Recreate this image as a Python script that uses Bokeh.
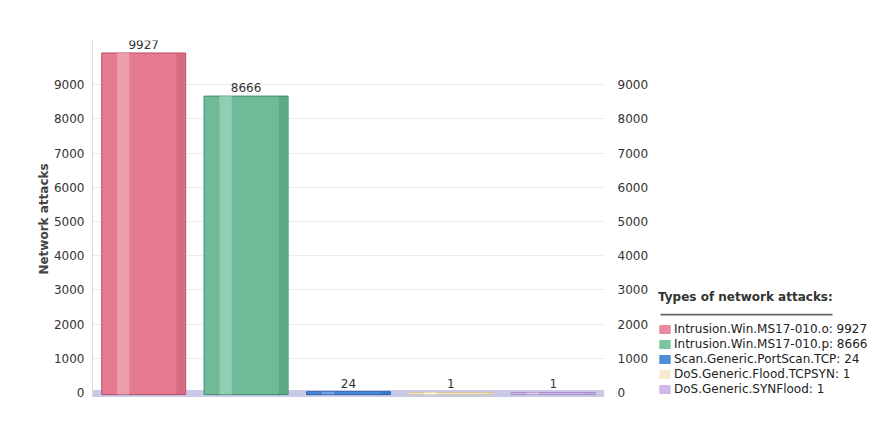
from bokeh.plotting import figure
from bokeh.layouts import row
from bokeh.models import (ColumnDataSource, Range1d, FactorRange, LinearAxis,
                          FixedTicker, Legend, LegendItem, BoxAnnotation)
from bokeh.transform import dodge
from bokeh.embed import file_html
from bokeh.resources import INLINE

# ---- data ----
attack_types = ["Intrusion.Win.MS17-010.o", "Intrusion.Win.MS17-010.p",
                "Scan.Generic.PortScan.TCP", "DoS.Generic.Flood.TCPSYN",
                "DoS.Generic.SYNFlood"]
attack_counts = [9927, 8666, 24, 1, 1]
y_ticks = [0, 1000, 2000, 3000, 4000, 5000, 6000, 7000, 8000, 9000]
legend_title = "Types of network attacks:"
y_label = "Network attacks"

# ---- styles ----
bar_colors = ["#e67a90", "#6fbb99", "#4a8bd8", "#f3e6c8", "#cbb6e4"]
edge_colors = ["#b94e64", "#3d8a68", "#2a62a8", "#d8c8a0", "#a890c8"]
light_colors = ["#f4b4c2", "#a9dcc7", "#8cbcef", "#ffffff", "#e6dcf4"]
swatch_colors = ["#e98ba0", "#7cc4a2", "#4f8fd8", "#f6ead0", "#cfb9ea"]
FONT = "DejaVu Sans"

source = ColumnDataSource(dict(
    cat=attack_types,
    val=attack_counts,
    lbl=[str(v) for v in attack_counts],
    color=bar_colors,
    edge=edge_colors,
    light=light_colors,
    swatch=swatch_colors,
))

p = figure(width=658, height=413, output_backend="svg", toolbar_location=None,
           x_range=FactorRange(*attack_types, range_padding=0.0),
           y_range=Range1d(-146, 10292),
           min_border_left=92, min_border_right=54,
           min_border_top=40, min_border_bottom=16,
           background_fill_color="white", border_fill_color="white")
p.outline_line_color = None

# floor band
p.add_layout(BoxAnnotation(bottom=-130, top=70, fill_color="#c9c9e8",
                           fill_alpha=1.0, line_color=None, level="underlay"))

bars = p.vbar(x="cat", top="val", bottom=-60, width=0.82, source=source,
              fill_color="color", line_color="edge", line_width=1)
# cylinder-like highlight strips
p.vbar(x=dodge("cat", -0.2, range=p.x_range), top="val", bottom=-60, width=0.12,
       source=source, fill_color="light", fill_alpha=0.6, line_color=None)
p.vbar(x=dodge("cat", 0.36, range=p.x_range), top="val", bottom=-60, width=0.08,
       source=source, fill_color="edge", fill_alpha=0.35, line_color=None)

p.text(x="cat", y="val", text="lbl", source=source, text_align="center",
       text_baseline="bottom", y_offset=-4, text_font_size="12px",
       text_color="#333333", text_font={"value": FONT})

# axes
p.xaxis.visible = False
p.xgrid.grid_line_color = None
p.ygrid.grid_line_color = "#ececec"
p.ygrid.ticker = FixedTicker(ticks=y_ticks)

ya = p.yaxis[0]
ya.ticker = FixedTicker(ticks=y_ticks)
ya.axis_label = y_label
ya.axis_label_text_font = FONT
ya.axis_label_text_font_style = "bold"
ya.axis_label_text_font_size = "12px"
ya.axis_label_text_color = "#444444"
ya.axis_label_standoff = 0
ya.major_label_text_font = FONT
ya.major_label_text_font_size = "12px"
ya.major_label_text_color = "#333333"
ya.major_tick_out = 0
ya.major_tick_in = 0
ya.minor_tick_out = 0
ya.minor_tick_in = 0
ya.major_label_standoff = 8
ya.axis_line_color = "#dcdcdc"

ra = LinearAxis(ticker=FixedTicker(ticks=y_ticks))
ra.major_label_text_font = FONT
ra.major_label_text_font_size = "12px"
ra.major_label_text_color = "#333333"
ra.major_tick_out = 0
ra.major_tick_in = 0
ra.minor_tick_out = 0
ra.minor_tick_in = 0
ra.major_label_standoff = 13
ra.axis_line_color = None
p.add_layout(ra, "right")

# ---- legend panel ----
p2 = figure(width=216, height=413, output_backend="svg", toolbar_location=None,
            x_range=Range1d(0, 216), y_range=Range1d(413, 0),
            x_axis_location=None, y_axis_location=None,
            min_border=0, min_border_left=0, min_border_right=0,
            min_border_top=0, min_border_bottom=0,
            background_fill_color="white", border_fill_color="white")
p2.outline_line_color = None
p2.grid.visible = False

# legend swatch renderer (kept outside the visible area)
swatches = p2.vbar(x=dodge("val", 1e6), top="val", bottom="val", width=0,
                   source=source, fill_color="swatch", line_color="swatch")

# underline of legend title
p2.add_layout(BoxAnnotation(left=2, right=174, top=316, bottom=318,
                            fill_color="#666666", fill_alpha=1.0,
                            line_color=None))

items = [LegendItem(label=f"{n}: {c}", renderers=[swatches], index=i)
         for i, (n, c) in enumerate(zip(attack_types, attack_counts))]
legend = Legend(items=items, location=(0, 1), padding=0, margin=0,
                title=legend_title,
                title_text_font=FONT, title_text_font_style="bold",
                title_text_font_size="12px", title_text_color="#333333",
                title_standoff=18,
                label_text_font=FONT, label_text_font_size="12px",
                label_text_color="#222222", label_height=13, label_standoff=3,
                glyph_height=10, glyph_width=13, spacing=1,
                border_line_color=None, background_fill_alpha=0)
p2.add_layout(legend, "center")

layout = row(p, p2, spacing=0)
open("out.html", "w").write(file_html(layout, INLINE))
